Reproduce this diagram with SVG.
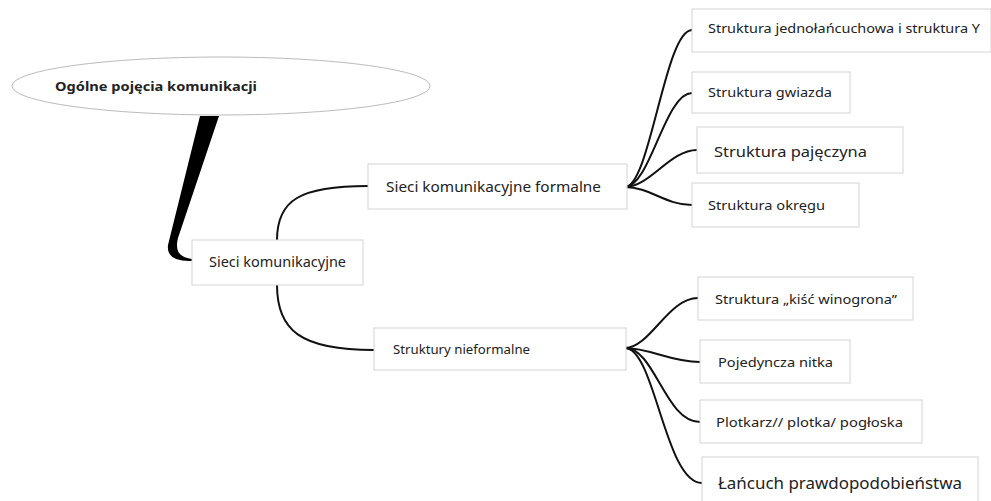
<svg xmlns="http://www.w3.org/2000/svg" width="991" height="501" viewBox="0 0 991 501">
<style>
.box{fill:#fff;stroke:#d4d4d4;stroke-width:1}
.t{font-family:"Noto Sans","Open Sans","DejaVu Sans",sans-serif;fill:#222}
.c{fill:none;stroke:#111;stroke-width:2;stroke-linecap:round}
</style>
<rect width="991" height="501" fill="#fff"/>
<g id="connectors">
<path d="M200,116 L219,116 L178,238 Q173,257 192,259 L192,261 Q166,262 168,245 Z" fill="#000"/>
<path class="c" d="M277,240 C277,200 300,186 368,186"/>
<path class="c" d="M277,285 C277,330 300,350 374,350"/>
<path class="c" d="M625,187 C650,187 665,30 692,30"/>
<path class="c" d="M625,187 C650,187 665,93 692,93"/>
<path class="c" d="M625,187 C650,187 670,150 697,150"/>
<path class="c" d="M625,187 C650,187 665,205 692,205"/>
<path class="c" d="M625,348 C650,348 668,298 698,298"/>
<path class="c" d="M625,348 C650,348 670,362 700,362"/>
<path class="c" d="M625,348 C655,348 665,422 700,422"/>
<path class="c" d="M625,348 C655,348 665,483 702,483"/>
</g>
<g id="root">
<ellipse cx="221" cy="86" rx="209" ry="29" fill="#fff" stroke="#bbb" stroke-width="1"/>
<text class="t" x="55" y="91" font-size="13" font-weight="bold" textLength="202" lengthAdjust="spacingAndGlyphs">Ogólne pojęcia komunikacji</text>
</g>
<g id="n-sieci">
<rect class="box" x="192" y="240" width="171" height="45"/>
<text class="t" x="209" y="267" font-size="14" textLength="137" lengthAdjust="spacingAndGlyphs">Sieci komunikacyjne</text>
</g>
<g id="n-formalne">
<rect class="box" x="368" y="164" width="259" height="45"/>
<text class="t" x="386" y="192" font-size="14.5" textLength="215" lengthAdjust="spacingAndGlyphs">Sieci komunikacyjne formalne</text>
</g>
<g id="n-nieformalne">
<rect class="box" x="374" y="328" width="252" height="42"/>
<text class="t" x="393" y="354" font-size="12" textLength="137" lengthAdjust="spacingAndGlyphs">Struktury nieformalne</text>
</g>
<g id="n-jedno">
<rect class="box" x="692" y="9" width="299" height="43"/>
<text class="t" x="708" y="33" font-size="12.5" textLength="272" lengthAdjust="spacingAndGlyphs">Struktura jednołańcuchowa i struktura Y</text>
</g>
<g id="n-gwiazda">
<rect class="box" x="692" y="72" width="158" height="41"/>
<text class="t" x="708" y="97" font-size="13" textLength="124" lengthAdjust="spacingAndGlyphs">Struktura gwiazda</text>
</g>
<g id="n-pajeczyna">
<rect class="box" x="697" y="127" width="206" height="46"/>
<text class="t" x="714" y="157" font-size="15" textLength="153" lengthAdjust="spacingAndGlyphs">Struktura pajęczyna</text>
</g>
<g id="n-okregu">
<rect class="box" x="692" y="183" width="167" height="44"/>
<text class="t" x="708" y="210" font-size="13" textLength="117" lengthAdjust="spacingAndGlyphs">Struktura okręgu</text>
</g>
<g id="n-winogrona">
<rect class="box" x="698" y="277" width="215" height="43"/>
<text class="t" x="715" y="304" font-size="12.5" textLength="182" lengthAdjust="spacingAndGlyphs">Struktura „kiść winogrona”</text>
</g>
<g id="n-nitka">
<rect class="box" x="700" y="340" width="150" height="43"/>
<text class="t" x="718" y="367" font-size="13" textLength="115" lengthAdjust="spacingAndGlyphs">Pojedyncza nitka</text>
</g>
<g id="n-plotkarz">
<rect class="box" x="700" y="400" width="222" height="43"/>
<text class="t" x="716" y="427" font-size="13" textLength="187" lengthAdjust="spacingAndGlyphs">Plotkarz// plotka/ pogłoska</text>
</g>
<g id="n-lancuch">
<rect class="box" x="702" y="457" width="276" height="50"/>
<text class="t" x="718" y="489" font-size="16" textLength="244" lengthAdjust="spacingAndGlyphs">Łańcuch prawdopodobieństwa</text>
</g>
</svg>
